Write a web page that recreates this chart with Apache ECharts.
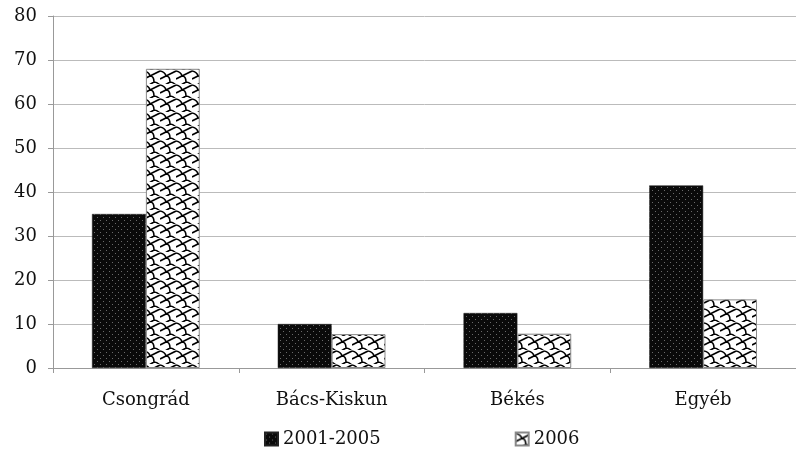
<!DOCTYPE html>
<html>
<head>
<meta charset="utf-8">
<script src="https://cdn.jsdelivr.net/npm/echarts@6/dist/echarts.min.js"></script>
<style>
  html, body { margin: 0; padding: 0; background: #fff; }
  #chartBox { width: 796px; height: 450px; }
</style>
</head>
<body>
<div id="chartBox"></div>
<script>
// adatok
var categories = ["Csongrád", "Bács-Kiskun", "Békés", "Egyéb"];
var seriesNames = ["2001-2005", "2006"];
var values2001_2005 = [35, 10, 12.5, 41.5];
var values2006 = [68, 7.7, 7.8, 15.6];
var yTicks = [0, 10, 20, 30, 40, 50, 60, 70, 80];

// pontozott fekete minta
function dotPattern() {
  var c = document.createElement("canvas");
  c.width = 6; c.height = 6;
  var ctx = c.getContext("2d");
  ctx.fillStyle = "#0a0a0a";
  ctx.fillRect(0, 0, 6, 6);
  ctx.fillStyle = "#6a6a6a";
  ctx.fillRect(1, 1, 1, 1);
  ctx.fillRect(4, 4, 1, 1);
  return c;
}

// pikkelyes minta
function scalePattern() {
  var c = document.createElement("canvas");
  c.width = 16; c.height = 14;
  var ctx = c.getContext("2d");
  ctx.fillStyle = "#fff";
  ctx.fillRect(0, 0, 16, 14);
  ctx.strokeStyle = "#000";
  ctx.lineWidth = 1.6;
  ctx.beginPath();
  ctx.moveTo(0, 1);
  ctx.quadraticCurveTo(5, 2, 6, 6);
  ctx.quadraticCurveTo(10, 6, 10, 12);
  ctx.quadraticCurveTo(13, 12, 16, 15);
  ctx.moveTo(8, -6);
  ctx.quadraticCurveTo(13, -5, 14, -1);
  ctx.moveTo(6, 6);
  ctx.lineTo(0, 9);
  ctx.moveTo(16, 1);
  ctx.lineTo(10, 4);
  ctx.quadraticCurveTo(8, 5, 6, 6);
  ctx.moveTo(10, 12);
  ctx.lineTo(5, 15);
  ctx.stroke();
  return c;
}

var chart = echarts.init(document.getElementById("chartBox"));

var option = {
  animation: false,
  textStyle: { fontFamily: "DejaVu Serif" },
  grid: {
    left: 53,
    right: -5,
    top: 16,
    bottom: 82
  },
  legend: {
    top: 425,
    left: 259,
    itemGap: 134,
    itemWidth: 13,
    itemHeight: 13,
    icon: "rect",
    textStyle: { fontSize: 18, color: "#111", fontFamily: "DejaVu Serif" },
    data: seriesNames
  },
  xAxis: {
    type: "category",
    data: categories,
    axisLine: { lineStyle: { color: "#999" } },
    axisTick: { show: true, length: 5, lineStyle: { color: "#999" } },
    axisLabel: { fontSize: 18, color: "#111", margin: 23 }
  },
  yAxis: {
    type: "value",
    min: yTicks[0],
    max: yTicks[yTicks.length - 1],
    interval: 10,
    axisLine: { show: true, lineStyle: { color: "#999" } },
    axisTick: { show: true, length: 5, lineStyle: { color: "#999" } },
    axisLabel: { fontSize: 18, color: "#111", margin: 16 },
    splitLine: { lineStyle: { color: "#bbb" } }
  },
  series: [
    {
      name: seriesNames[0],
      type: "bar",
      data: values2001_2005,
      barGap: "0%",
      barCategoryGap: "42%",
      itemStyle: {
        color: { image: dotPattern(), repeat: "repeat" },
        borderColor: "#222",
        borderWidth: 0.5
      }
    },
    {
      name: seriesNames[1],
      type: "bar",
      data: values2006,
      itemStyle: {
        color: { image: scalePattern(), repeat: "repeat" },
        borderColor: "#888",
        borderWidth: 1
      }
    }
  ]
};

chart.setOption(option);
</script>
</body>
</html>
